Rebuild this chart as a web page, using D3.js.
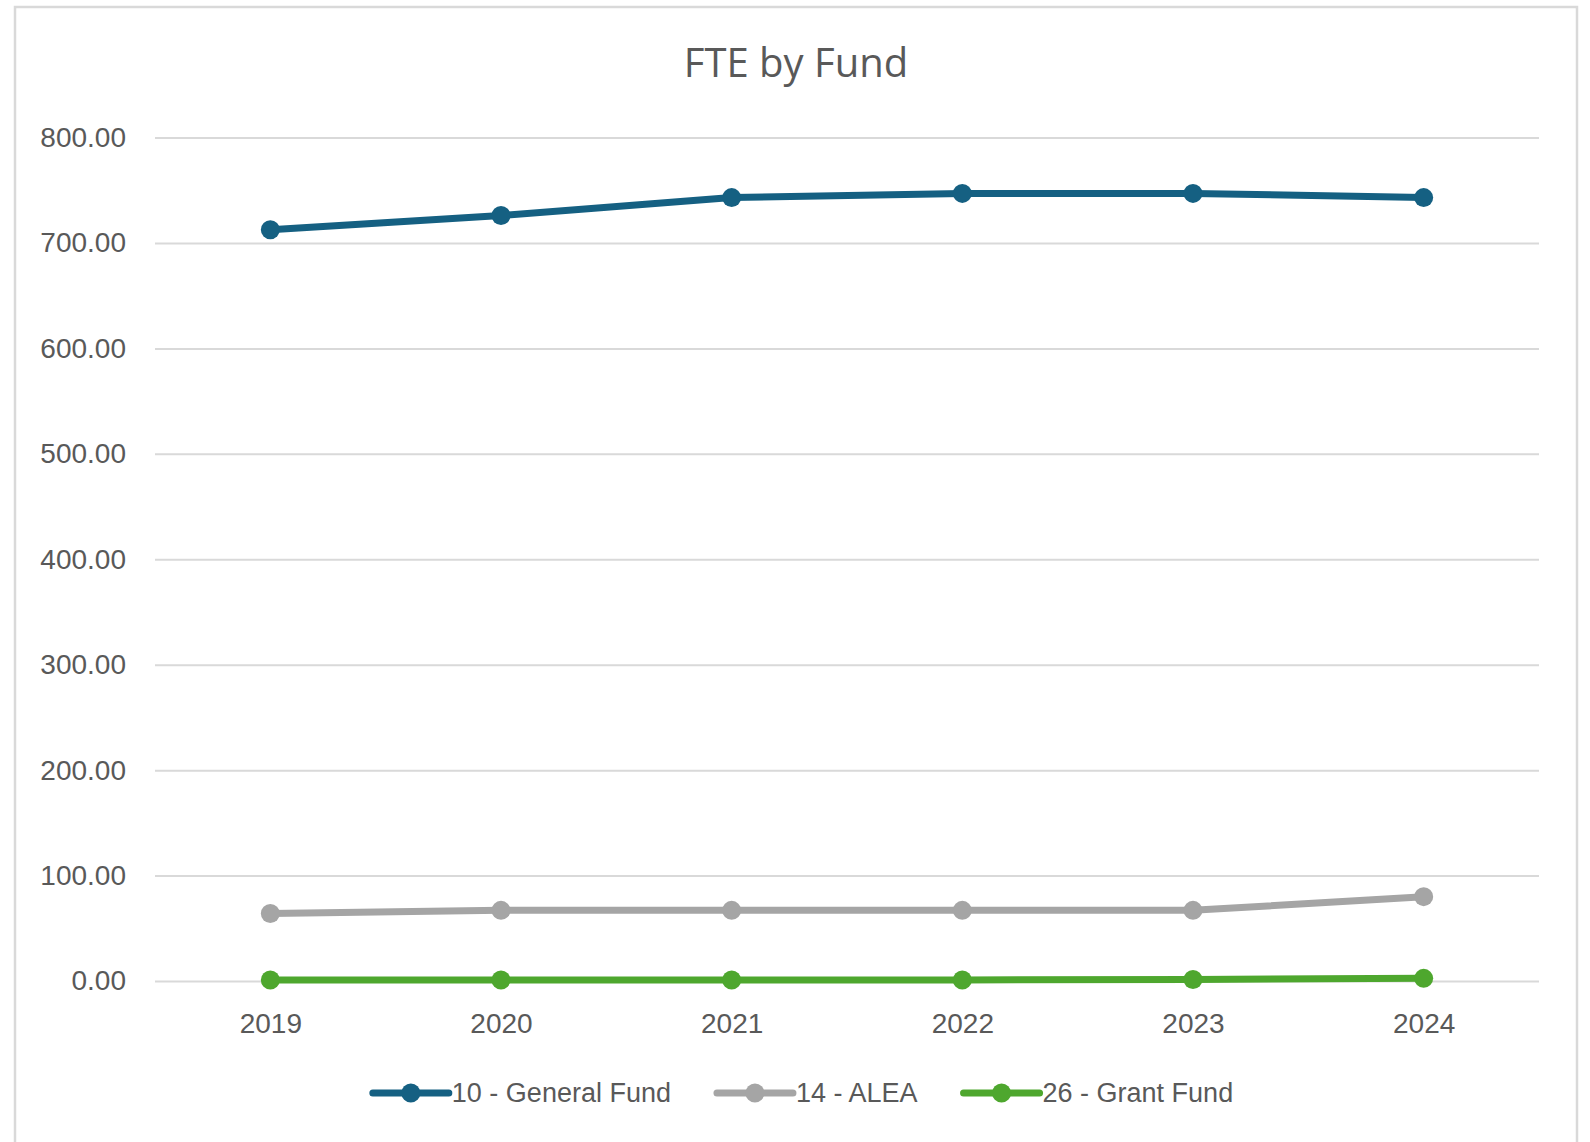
<!DOCTYPE html>
<html>
<head>
    <meta charset="utf-8" />
    <script src="https://cdn.jsdelivr.net/npm/d3@7"></script>
    <title>FTE by Fund</title>
    <style>
        body { margin: 0; background: #fff; }
        .axis text { font-family: "Liberation Sans", Arial, sans-serif; font-size: 28px; fill: #595959; }
        .legend text { font-family: "Liberation Sans", Arial, sans-serif; font-size: 27px; fill: #595959; }
        .title { font-family: "Open Sans", sans-serif; font-size: 40px; fill: #595959; }
    </style>
</head>
<body>
<script>
    // data
    var years = ["2019", "2020", "2021", "2022", "2023", "2024"];
    var generalFund = [712.5, 726, 743, 747, 747, 743];
    var alea = [64, 67, 67, 67, 67, 80];
    var grantFund = [1, 1, 1, 1, 1.5, 2.5];
    var seriesNames = ["10 - General Fund", "14 - ALEA", "26 - Grant Fund"];
    var seriesColors = ["#156082", "#a5a5a5", "#4ea72e"];
    var yTicks = [0, 100, 200, 300, 400, 500, 600, 700, 800];

    var svgWidth = 1590, svgHeight = 1142;
    var plot = {left: 155, right: 1539, top: 137.5, bottom: 981};

    var svg = d3.select("body").append("svg")
        .attr("width", svgWidth)
        .attr("height", svgHeight);

    // chart frame
    svg.append("rect")
        .attr("x", 15).attr("y", 7)
        .attr("width", 1562).attr("height", 1150)
        .attr("fill", "#fff")
        .attr("stroke", "#d9d9d9")
        .attr("stroke-width", 2.5);

    var x = d3.scalePoint()
        .domain(years)
        .range([plot.left, plot.right])
        .padding(0.5);

    var y = d3.scaleLinear()
        .domain([0, 800])
        .range([plot.bottom, plot.top]);

    // gridlines + y labels
    var yAxis = svg.append("g")
        .attr("class", "axis")
        .attr("transform", "translate(" + plot.left + ",0)")
        .call(d3.axisLeft(y)
            .tickValues(yTicks)
            .tickFormat(d3.format(".2f"))
            .tickSize(-(plot.right - plot.left))
            .tickPadding(29));
    yAxis.select(".domain").remove();
    yAxis.selectAll("line").attr("stroke", "#d9d9d9").attr("stroke-width", 2);

    var xAxis = svg.append("g")
        .attr("class", "axis")
        .attr("transform", "translate(0," + plot.bottom + ")")
        .call(d3.axisBottom(x).tickSize(0).tickPadding(32));
    xAxis.select(".domain").remove();

    svg.append("text")
        .attr("class", "title")
        .attr("x", 796)
        .attr("y", 77)
        .attr("text-anchor", "middle")
        .text("FTE by Fund");

    var allSeries = [generalFund, alea, grantFund];
    var line = d3.line()
        .x(function(d, i) { return x(years[i]); })
        .y(function(d) { return y(d); });

    allSeries.forEach(function(vals, s) {
        svg.append("path")
            .datum(vals)
            .attr("fill", "none")
            .attr("stroke", seriesColors[s])
            .attr("stroke-width", 7)
            .attr("stroke-linejoin", "round")
            .attr("stroke-linecap", "round")
            .attr("d", line);
        svg.append("g").selectAll("circle")
            .data(vals)
            .enter().append("circle")
            .attr("cx", function(d, i) { return x(years[i]); })
            .attr("cy", function(d) { return y(d); })
            .attr("r", 9.5)
            .attr("fill", seriesColors[s]);
    });

    // legend
    var legend = svg.append("g").attr("class", "legend");
    var lineLen = 76, textGap = 3, itemGap = 46, legendY = 1093;
    var items = legend.selectAll("g")
        .data(seriesNames)
        .enter().append("g");
    items.append("line")
        .attr("x1", 0).attr("x2", lineLen)
        .attr("y1", 0).attr("y2", 0)
        .attr("stroke", function(d, i) { return seriesColors[i]; })
        .attr("stroke-width", 7)
        .attr("stroke-linecap", "round");
    items.append("circle")
        .attr("cx", lineLen / 2).attr("cy", 0).attr("r", 9.5)
        .attr("fill", function(d, i) { return seriesColors[i]; });
    items.append("text")
        .attr("x", lineLen + textGap)
        .attr("dy", "0.35em")
        .text(function(d) { return d; });

    var widths = [];
    items.each(function() { widths.push(this.getBBox().width); });
    var total = d3.sum(widths) + itemGap * (widths.length - 1);
    var cx = 803 - total / 2;
    items.attr("transform", function(d, i) {
        var t = "translate(" + cx + "," + legendY + ")";
        cx += widths[i] + itemGap;
        return t;
    });
</script>
</body>
</html>
